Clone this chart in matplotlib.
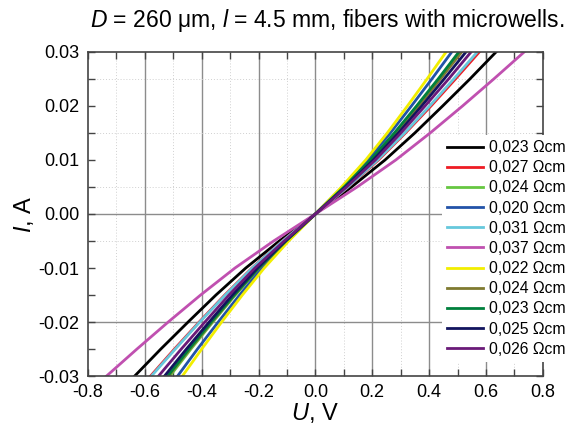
import matplotlib
matplotlib.use("Agg")
import matplotlib.pyplot as plt
from matplotlib.ticker import MultipleLocator

plt.rcParams['font.family'] = ['Liberation Sans', 'DejaVu Sans']
plt.rcParams['mathtext.fontset'] = 'custom'
plt.rcParams['mathtext.rm'] = 'Liberation Sans'
plt.rcParams['mathtext.it'] = 'Liberation Sans:italic'

# current levels (A) at which the voltage of each curve was read
current = [-0.03, -0.025, -0.02, -0.015, -0.01, -0.005, 0.0,
           0.005, 0.01, 0.015, 0.02, 0.025, 0.03]

labels = ['0,023 Ωcm', '0,027 Ωcm', '0,024 Ωcm', '0,020 Ωcm', '0,031 Ωcm', '0,037 Ωcm',
          '0,022 Ωcm', '0,024 Ωcm', '0,023 Ωcm', '0,025 Ωcm', '0,026 Ωcm']
colors = ['#000000', '#ee1c24', '#66c641', '#2253a8', '#66c8dc', '#c050b0',
          '#f2ee00', '#7f7a30', '#00803c', '#12145e', '#6a1a78']

# voltage (V) of each sample at the current levels above
u_black = [-0.636, -0.544, -0.448, -0.350, -0.245, -0.127, 0,
           0.127, 0.245, 0.350, 0.448, 0.544, 0.636]
u_red = [-0.580, -0.496, -0.409, -0.319, -0.223, -0.116, 0,
         0.115, 0.222, 0.317, 0.407, 0.493, 0.577]
u_lgreen = [-0.512, -0.438, -0.361, -0.282, -0.197, -0.102, 0,
            0.102, 0.196, 0.281, 0.360, 0.436, 0.510]
u_blue = [-0.485, -0.415, -0.342, -0.267, -0.187, -0.097, 0,
          0.096, 0.185, 0.264, 0.338, 0.410, 0.480]
u_cyan = [-0.577, -0.493, -0.407, -0.317, -0.222, -0.115, 0,
          0.114, 0.219, 0.314, 0.402, 0.487, 0.570]
u_magenta = [-0.735, -0.628, -0.518, -0.404, -0.283, -0.147, 0,
             0.147, 0.283, 0.404, 0.518, 0.628, 0.735]
u_yellow = [-0.468, -0.400, -0.330, -0.257, -0.180, -0.094, 0,
            0.092, 0.177, 0.253, 0.324, 0.393, 0.460]
u_olive = [-0.517, -0.442, -0.364, -0.284, -0.199, -0.103, 0,
           0.103, 0.198, 0.283, 0.363, 0.440, 0.515]
u_dgreen = [-0.520, -0.445, -0.367, -0.286, -0.200, -0.104, 0,
            0.101, 0.194, 0.278, 0.356, 0.432, 0.505]
u_navy = [-0.531, -0.454, -0.374, -0.292, -0.204, -0.106, 0,
          0.106, 0.204, 0.292, 0.374, 0.453, 0.530]
u_purple = [-0.552, -0.472, -0.389, -0.304, -0.213, -0.110, 0,
            0.110, 0.211, 0.301, 0.386, 0.469, 0.548]

voltages = [u_black, u_red, u_lgreen, u_blue, u_cyan, u_magenta,
            u_yellow, u_olive, u_dgreen, u_navy, u_purple]

fig = plt.figure(figsize=(5.75, 4.25), dpi=100)
ax = fig.add_axes([0.153, 0.115, 0.791, 0.763])

# grid as drawn in the original
for x in [-0.6, -0.4, -0.2, 0.0, 0.2, 0.4, 0.6]:
    ax.axvline(x, color='#8c8c8c', lw=1.0, zorder=0)
for x in [-0.7, -0.5, -0.3, -0.1, 0.1, 0.3, 0.5, 0.7]:
    ax.axvline(x, color='#d0d0d0', lw=0.7, ls=(0, (1, 2)), zorder=0)
for y in [0.0, -0.02]:
    ax.axhline(y, color='#8c8c8c', lw=1.0, zorder=0)
for y in [0.025, 0.015, 0.005, -0.005]:
    ax.axhline(y, color='#d0d0d0', lw=0.7, ls=(0, (1, 2)), zorder=0)

for u, c, lab in zip(voltages, colors, labels):
    ax.plot(u, current, color=c, lw=2, label=lab)

ax.set_xlim(-0.8, 0.8)
ax.set_ylim(-0.03, 0.03)
ax.xaxis.set_major_locator(MultipleLocator(0.2))
ax.xaxis.set_minor_locator(MultipleLocator(0.1))
ax.yaxis.set_major_locator(MultipleLocator(0.01))
ax.yaxis.set_minor_locator(MultipleLocator(0.005))
ax.xaxis.set_major_formatter(plt.FuncFormatter(lambda v, p: f'{v:.1f}'))
ax.yaxis.set_major_formatter(plt.FuncFormatter(lambda v, p: f'{v:.2f}'))
ax.tick_params(which='both', direction='in', top=True, right=True,
               length=5, width=1, color='#444444', labelsize=13, pad=6)
for s in ax.spines.values():
    s.set_color('#444444')
    s.set_linewidth(1.2)

ax.set_xlabel(r'$U$, V', fontsize=17, labelpad=0)
ax.set_ylabel(r'$I$, A', fontsize=17, labelpad=2)
fig.text(0.57, 0.951, r'$D$ = 260 μm, $l$ = 4.5 mm, fibers with microwells.',
         fontsize=16.5, ha='center', va='center')

leg = ax.legend(loc='upper left', bbox_to_anchor=(0.755, 0.70),
                bbox_transform=fig.transFigure, fontsize=11.3,
                handlelength=2.3, handletextpad=0.4, labelspacing=0.33,
                borderpad=0.3, frameon=True, fancybox=False)
leg.get_frame().set_facecolor('white')
leg.get_frame().set_edgecolor('none')
leg.get_frame().set_alpha(1)
leg.set_clip_on(False)

fig.savefig('out.png', dpi=100)
